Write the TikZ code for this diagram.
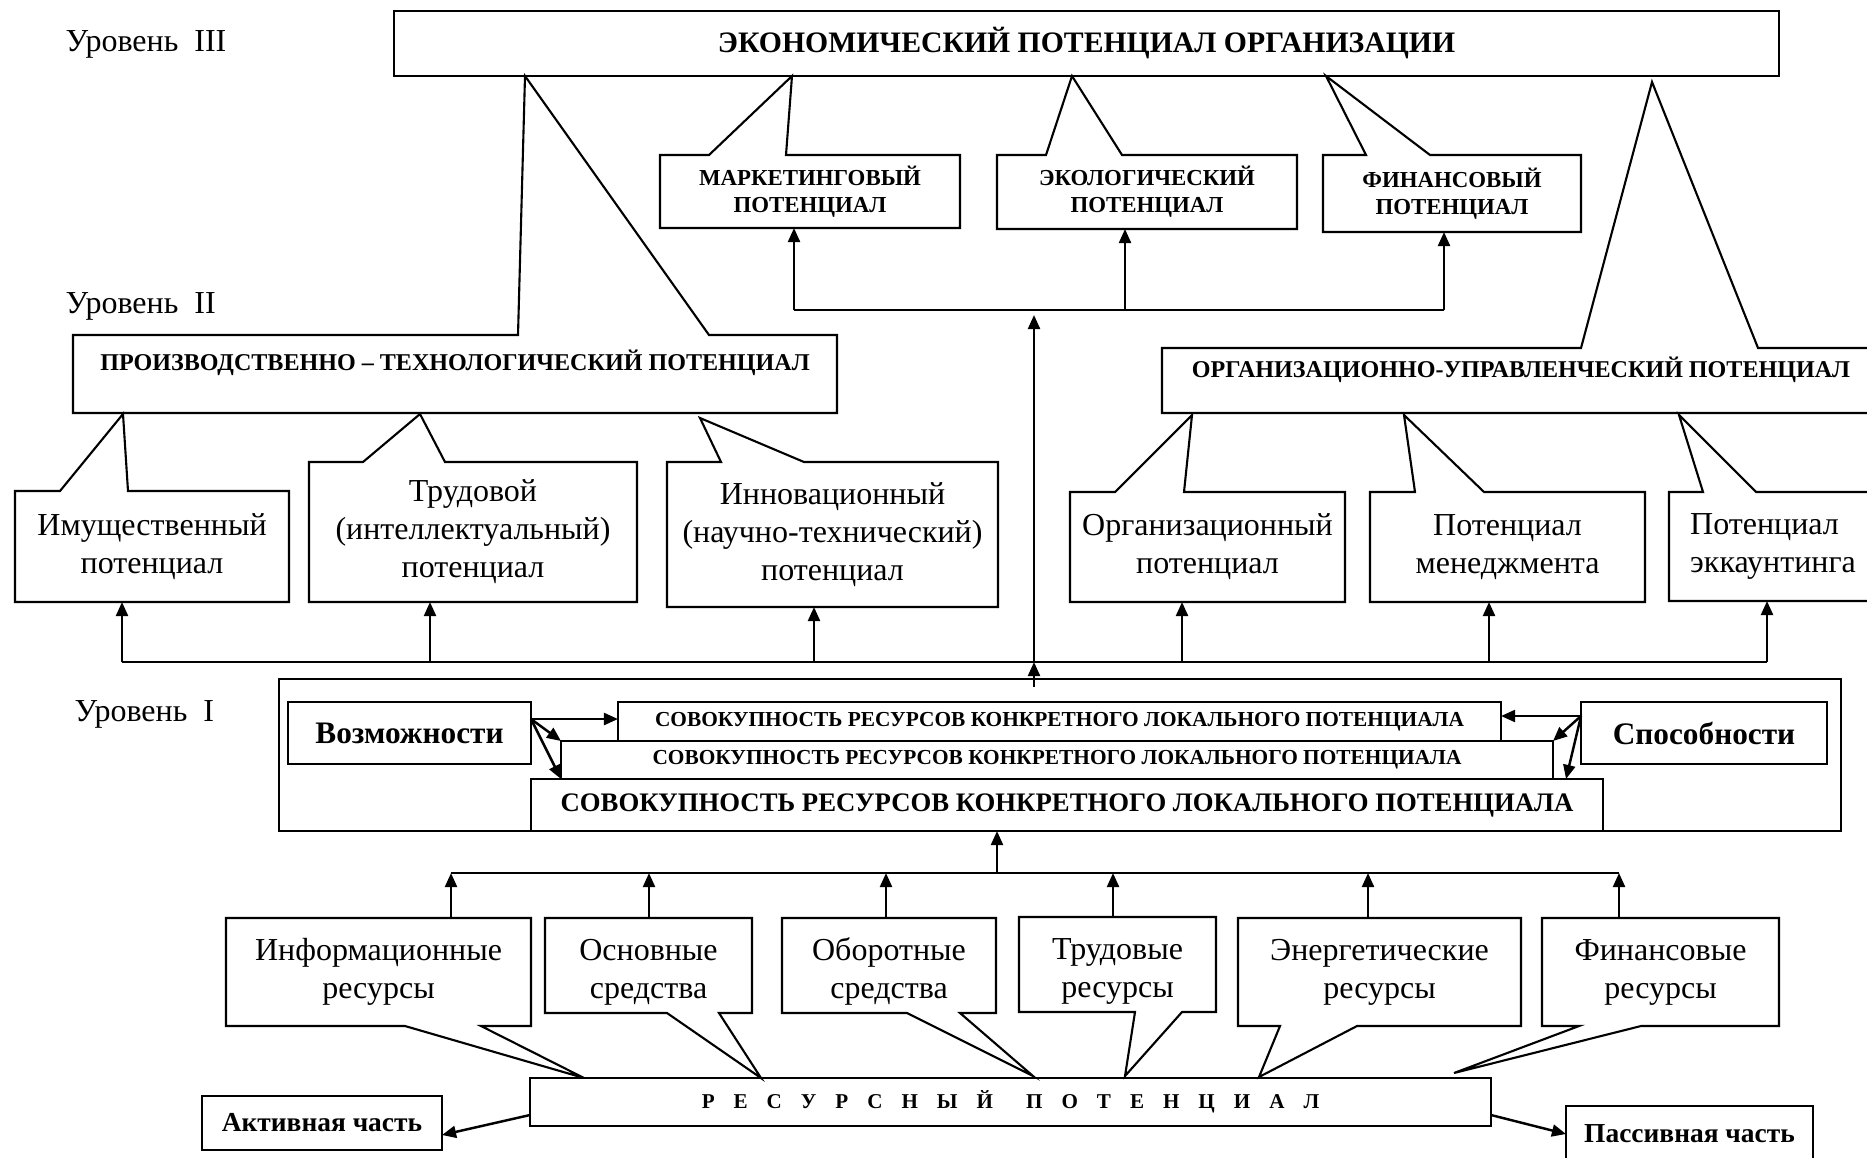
\documentclass[tikz,border=0pt]{standalone}
\usepackage{fontspec}
\setmainfont{Liberation Serif}
\usepackage{tikz}
\usetikzlibrary{arrows.meta}
\newcommand{\regularFont}{\fontsize{9.1}{10.8}\selectfont}
\newcommand{\titleFont}{\fontsize{8.45}{10}\selectfont\bfseries}
\newcommand{\capsFont}{\fontsize{6.5}{7.7}\selectfont\bfseries}
\newcommand{\wideCapsFont}{\fontsize{6.85}{7.7}\selectfont\bfseries}
\newcommand{\stripFont}{\fontsize{6.07}{7}\selectfont\bfseries}
\newcommand{\bigStripFont}{\fontsize{7.6}{9}\selectfont\bfseries}
\newcommand{\abilityFont}{\fontsize{8.9}{10}\selectfont\bfseries}
\newcommand{\partFont}{\fontsize{7.8}{9}\selectfont\bfseries}
\newcommand{\spacedFont}{\fontsize{6}{7}\selectfont\bfseries\spaceskip=5.4pt\relax}
\tikzstyle{boxNode} = [inner sep=0, outer sep=0, align=center, anchor=north west, font=\regularFont]
\tikzstyle{lowText} = [text height=20.5pt]
\tikzstyle{plainBox} = [boxNode, draw, line width=0.6pt]
\tikzstyle{boxLine} = [line width=0.6pt, line join=miter]
\tikzstyle{busLine} = [line width=0.8pt]
\tikzstyle{arrowLine} = [line width=0.7pt, -{Triangle[length=4pt, width=3.4pt]}]
\tikzstyle{levelText} = [inner sep=0, anchor=base west, font=\regularFont]
\tikzset{boxSize/.style 2 args={minimum width=#1*0.01cm, minimum height=#2*0.01cm}}
\newcommand{\wedgeTop}[4]{\draw [boxLine] (#1.north west) -- (#1.north west -| #2,0) -- (#3) -- (#1.north west -| #4,0) -- (#1.north east) -- (#1.south east) -- (#1.south west) -- cycle;}
\newcommand{\wedgeBottom}[4]{\draw [boxLine] (#1.north west) -- (#1.north east) -- (#1.south east) -- (#1.south east -| #4,0) -- (#3) -- (#1.south east -| #2,0) -- (#1.south west) -- cycle;}

\begin{document}
\begin{tikzpicture}[x=0.01cm, y=-0.01cm]
\useasboundingbox (0,0) rectangle (1867,1157);
\clip (0,0) rectangle (1867,1157);

\node [levelText] (levelThree) at (65,51) {Уровень~~III};
\node [levelText] (levelTwo) at (65,313) {Уровень~~II};
\node [levelText] (levelOne) at (74,721) {Уровень~~I};

\node [plainBox, boxSize={1385}{65}, font=\titleFont] (econ) at (394,11) {ЭКОНОМИЧЕСКИЙ ПОТЕНЦИАЛ ОРГАНИЗАЦИИ};

\node [boxNode, boxSize={300}{73}, font=\capsFont] (market) at (660,155) {МАРКЕТИНГОВЫЙ\\ПОТЕНЦИАЛ};
\wedgeTop{market}{709}{792,76}{786}
\node [boxNode, boxSize={300}{74}, font=\capsFont] (eco) at (997,155) {ЭКОЛОГИЧЕСКИЙ\\ПОТЕНЦИАЛ};
\wedgeTop{eco}{1046}{1072,76}{1122}
\node [boxNode, boxSize={258}{77}, font=\capsFont] (fin) at (1323,155) {ФИНАНСОВЫЙ\\ПОТЕНЦИАЛ};
\wedgeTop{fin}{1366}{1326,76}{1430}

\node [boxNode, boxSize={764}{78}, font=\wideCapsFont] (prod) at (73,335) {ПРОИЗВОДСТВЕННО – ТЕХНОЛОГИЧЕСКИЙ ПОТЕНЦИАЛ\\~};
\wedgeTop{prod}{518}{525,76}{709}
\node [boxNode, boxSize={718}{65}, font=\wideCapsFont] (orgUpr) at (1162,348) {ОРГАНИЗАЦИОННО-УПРАВЛЕНЧЕСКИЙ ПОТЕНЦИАЛ\\~};
\wedgeTop{orgUpr}{1581}{1652,82}{1758}

\node [boxNode, boxSize={274}{111}] (imush) at (15,491) {Имущественный\\потенциал};
\wedgeTop{imush}{60}{123,414}{128}
\node [boxNode, boxSize={328}{140}] (trud) at (309,462) {Трудовой\\(интеллектуальный)\\потенциал};
\wedgeTop{trud}{363}{420,414}{445}
\node [boxNode, boxSize={331}{145}] (innov) at (667,462) {Инновационный\\(научно-технический)\\потенциал};
\wedgeTop{innov}{721}{700,418}{804}
\node [boxNode, boxSize={275}{110}] (org) at (1070,492) {Организационный\\потенциал};
\wedgeTop{org}{1115}{1192,415}{1184}
\node [boxNode, boxSize={275}{110}] (manag) at (1370,492) {Потенциал\\менеджмента};
\wedgeTop{manag}{1415}{1404,415}{1484}
\node [boxNode, boxSize={208}{109}, align=left] (account) at (1669,492) {Потенциал\\эккаунтинга};
\wedgeTop{account}{1703}{1679,415}{1756}

\coordinate (topBusA) at (794,310);
\coordinate (topBusB) at (1125,310);
\coordinate (topBusC) at (1444,310);
\draw [busLine] (topBusA) -- (topBusC);
\draw [arrowLine] (topBusA) -- (topBusA |- market.south);
\draw [arrowLine] (topBusB) -- (topBusB |- eco.south);
\draw [arrowLine] (topBusC) -- (topBusC |- fin.south);

\coordinate (midBusA) at (122,662);
\coordinate (midBusB) at (430,662);
\coordinate (midBusC) at (814,662);
\coordinate (midBusD) at (1182,662);
\coordinate (midBusE) at (1489,662);
\coordinate (midBusF) at (1767,662);
\draw [busLine] (midBusA) -- (midBusF);
\draw [arrowLine] (midBusA) -- (midBusA |- imush.south);
\draw [arrowLine] (midBusB) -- (midBusB |- trud.south);
\draw [arrowLine] (midBusC) -- (midBusC |- innov.south);
\draw [arrowLine] (midBusD) -- (midBusD |- org.south);
\draw [arrowLine] (midBusE) -- (midBusE |- manag.south);
\draw [arrowLine] (midBusF) -- (midBusF |- account.south);

\coordinate (centreFoot) at (1034,687);
\coordinate (centreBus) at (1034,662);
\coordinate (centreTop) at (1034,315);
\draw [arrowLine] (centreFoot) -- (centreBus);
\draw [arrowLine] (centreBus) -- (centreTop);

\node [plainBox, boxSize={1562}{152}] (levelBox) at (279,679) {};
\node [plainBox, boxSize={243}{62}, font=\abilityFont] (vozm) at (288,702) {Возможности};
\node [plainBox, boxSize={246}{62}, font=\abilityFont] (sposob) at (1581,702) {Способности};
\node [plainBox, boxSize={883}{39}, font=\stripFont] (stripTop) at (618,702) {СОВОКУПНОСТЬ РЕСУРСОВ КОНКРЕТНОГО ЛОКАЛЬНОГО ПОТЕНЦИАЛА};
\node [plainBox, boxSize={992}{38}, font=\stripFont] (stripMid) at (561,741) {СОВОКУПНОСТЬ РЕСУРСОВ КОНКРЕТНОГО ЛОКАЛЬНОГО ПОТЕНЦИАЛА};
\node [plainBox, boxSize={1072}{52}, font=\bigStripFont] (stripLow) at (531,779) {СОВОКУПНОСТЬ РЕСУРСОВ КОНКРЕТНОГО ЛОКАЛЬНОГО ПОТЕНЦИАЛА};

\coordinate (vozmOut) at (531,719);
\draw [arrowLine] (vozmOut) -- (vozmOut -| stripTop.west);
\draw [arrowLine] (vozmOut) -- (stripMid.north west);
\draw [arrowLine] (vozmOut) -- (stripMid.south west);
\coordinate (sposobOut) at (1581,716);
\coordinate (sposobTip) at (1566,779);
\draw [arrowLine] (sposobOut) -- (sposobOut -| stripTop.east);
\draw [arrowLine] (sposobOut) -- (stripMid.north east);
\draw [arrowLine] (sposobOut) -- (sposobTip);

\node [boxNode, boxSize={305}{108}] (info) at (226,918) {Информационные\\ресурсы};
\wedgeBottom{info}{405}{584,1078}{481}
\node [boxNode, lowText, boxSize={207}{95}] (osn) at (545,918) {Основные\\средства};
\wedgeBottom{osn}{667}{761,1078}{719}
\node [boxNode, lowText, boxSize={214}{95}] (obor) at (782,918) {Оборотные\\средства};
\wedgeBottom{obor}{907}{1033,1076}{960}
\node [boxNode, lowText, boxSize={197}{95}] (trudRes) at (1019,917) {Трудовые\\ресурсы};
\wedgeBottom{trudRes}{1135}{1125,1076}{1182}
\node [boxNode, boxSize={283}{108}] (energ) at (1238,918) {Энергетические\\ресурсы};
\wedgeBottom{energ}{1280}{1259,1077}{1357}
\node [boxNode, boxSize={237}{108}] (finRes) at (1542,918) {Финансовые\\ресурсы};
\wedgeBottom{finRes}{1579}{1454,1073}{1641}

\coordinate (lowBusA) at (451,873);
\coordinate (lowBusB) at (649,873);
\coordinate (lowBusC) at (886,873);
\coordinate (lowBusD) at (1113,873);
\coordinate (lowBusE) at (1368,873);
\coordinate (lowBusF) at (1619,873);
\coordinate (lowBusMid) at (997,873);
\draw [busLine] (lowBusA) -- (lowBusF);
\draw [arrowLine] (lowBusA |- info.north) -- (lowBusA);
\draw [arrowLine] (lowBusB |- osn.north) -- (lowBusB);
\draw [arrowLine] (lowBusC |- obor.north) -- (lowBusC);
\draw [arrowLine] (lowBusD |- trudRes.north) -- (lowBusD);
\draw [arrowLine] (lowBusE |- energ.north) -- (lowBusE);
\draw [arrowLine] (lowBusF |- finRes.north) -- (lowBusF);
\draw [arrowLine] (lowBusMid) -- (lowBusMid |- levelBox.south);

\node [plainBox, boxSize={961}{48}, font=\spacedFont] (resPot) at (530,1078) {Р Е С У Р С Н Ы Й\hspace{9.4pt}П О Т Е Н Ц И А Л};
\node [plainBox, boxSize={240}{54}, font=\partFont] (aktiv) at (202,1096) {Активная часть};
\node [plainBox, boxSize={247}{56}, font=\partFont] (passiv) at (1566,1106) {Пассивная часть};
\draw [arrowLine] ([yshift=-0.13cm]resPot.west) -- ([yshift=-0.12cm]aktiv.east);
\draw [arrowLine] ([yshift=-0.13cm]resPot.east) -- (passiv.west);
\end{tikzpicture}
\end{document}
